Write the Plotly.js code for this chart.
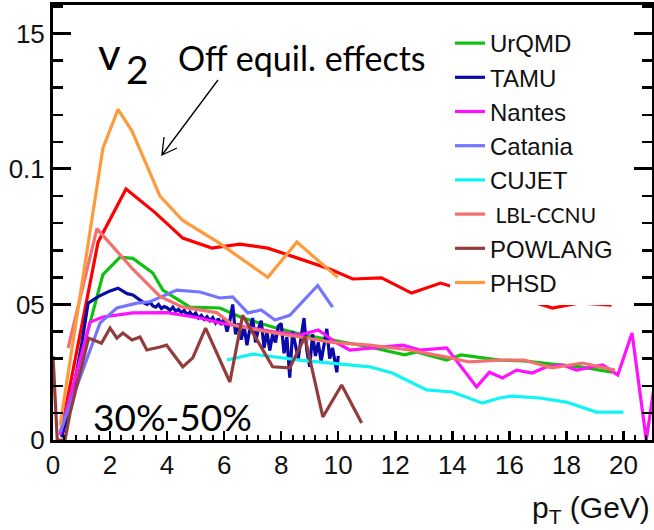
<!DOCTYPE html>
<html>
<head>
<meta charset="utf-8">
<script src="https://cdn.plot.ly/plotly-3.0.1.min.js"></script>
<style>
html,body{margin:0;padding:0;background:#fff;}
#wrap{position:relative;width:654px;height:530px;}
#chart,#axes{position:absolute;left:0;top:0;width:654px;height:530px;}
#axes{pointer-events:none;}
</style>
</head>
<body>
<div id="wrap"><div id="chart"></div><div id="axes"></div></div>
<script>
// ---- data ----
var seriesNames = ["UrQMD","TAMU","Nantes","Catania","CUJET","LBL-CCNU","POWLANG","PHSD"];

var redX = [0.3,1.58,2.56,3.57,4.55,5.57,6.55,7.53,8.55,9.7,10.51,11.52,12.57,13.59,14.5,15.31,16.6,17.51,18.46,19.58];
var redY = [0.004,0.073,0.0926,0.084,0.0745,0.0708,0.0723,0.0708,0.0672,0.0631,0.0594,0.0598,0.0542,0.0579,0.055,0.0509,0.0517,0.0487,0.0506,0.0498];

var urqmdX = [0.25,1.75,2.35,2.8,3.5,3.85,4.8,5.85,6.65,7.7,8.7,9.7,10.4,11.1,12.33,12.75,13.8,14.3,15.65,16.5,17.5,18.5,19.6];
var urqmdY = [0.002,0.061,0.0675,0.067,0.0616,0.0553,0.049,0.0487,0.045,0.0417,0.039,0.037,0.0358,0.0343,0.0314,0.0325,0.0295,0.0314,0.0295,0.0292,0.028,0.027,0.025];

var tamuX = [0.3,0.6,1.0,1.23,1.6,2.0,2.28,2.6,2.8,
  3.0,3.1,3.2,3.3,3.4,3.5,3.6,3.7,3.8,3.9,4.0,4.1,4.2,4.3,4.4,4.5,4.6,4.7,4.8,4.9,
  5.0,5.1,5.2,5.3,5.4,5.5,5.6,5.7,5.8,5.9,6.0,6.1,6.2,6.3,6.4,6.5,6.6,6.7,6.8,6.9,
  7.0,7.1,7.2,7.3,7.4,7.5,7.6,7.7,7.8,7.9,8.0,8.1,8.2,8.3,8.4,8.5,8.6,8.7,8.8,8.9,
  9.0,9.1,9.2,9.3,9.4,9.5,9.6,9.7,9.8,9.9,9.95,10.0];
var tamuY = [0.001,0.012,0.035,0.0505,0.053,0.055,0.056,0.054,0.0535,
  0.052,0.051,0.0505,0.050,0.0508,0.0495,0.049,0.050,0.0485,0.0492,0.0488,0.0478,0.049,0.0475,0.0482,0.047,0.0478,0.0462,0.0472,0.0458,
  0.0468,0.045,0.046,0.0445,0.0455,0.044,0.0452,0.0432,0.0448,0.0425,0.045,0.040,0.044,0.050,0.039,0.043,0.037,0.042,0.035,0.041,
  0.045,0.036,0.041,0.044,0.034,0.040,0.033,0.039,0.036,0.042,0.043,0.032,0.038,0.023,0.040,0.035,0.030,0.038,0.045,0.033,
  0.027,0.039,0.031,0.036,0.029,0.035,0.041,0.030,0.034,0.028,0.025,0.031];

var nantesX = [0.25,1.3,1.75,2.8,4.0,5.15,5.85,7.7,8.65,9.3,9.95,10.4,11.5,12.27,12.86,13.8,14.85,15.3,15.76,16.25,16.8,17.3,17.87,18.35,19.27,19.8,20.3,20.8,21.05];
var nantesY = [0.002,0.0435,0.0454,0.0469,0.047,0.045,0.0432,0.040,0.0387,0.0406,0.0358,0.0332,0.0343,0.035,0.0332,0.034,0.0196,0.025,0.0229,0.0258,0.0247,0.027,0.0277,0.0258,0.0277,0.024,0.0395,0.0,0.018];

var cataniaX = [0.25,1.65,2.24,2.94,3.4,4.34,5.15,5.85,6.3,6.83,7.3,7.78,8.3,9.28,9.8];
var cataniaY = [0.003,0.0432,0.0487,0.0505,0.051,0.0553,0.0546,0.0524,0.0528,0.0469,0.048,0.0443,0.046,0.057,0.049];

var cujetX = [6.1,7.0,8.65,9.8,11.1,11.9,13.1,14.0,15.06,15.65,16.1,17.06,18.0,19.05,20.0];
var cujetY = [0.0295,0.0317,0.0295,0.0284,0.027,0.0247,0.0185,0.0177,0.0136,0.0155,0.0162,0.0155,0.014,0.0103,0.0103];

var lblX = [0.53,1.54,2.8,3.75,4.55,5.74,6.3,7.5,8.65,9.8,11.1,12.5,13.8,14.6,15.65,16.5,17.5,18.56,19.7];
var lblY = [0.034,0.078,0.063,0.053,0.049,0.047,0.0424,0.040,0.038,0.036,0.035,0.0332,0.0306,0.0288,0.0295,0.0295,0.0266,0.0284,0.0258];

var powlangX = [0.0,0.15,0.42,0.6,1.25,1.7,2.0,2.24,2.45,2.77,3.05,3.29,3.75,3.98,4.55,4.9,5.35,6.2,6.65,7.7,8.3,8.83,9.46,10.12,10.82];
var powlangY = [0.031,0.0,0.0,0.01,0.0376,0.0357,0.0413,0.0376,0.0395,0.0369,0.038,0.0332,0.0343,0.035,0.027,0.0303,0.0413,0.0214,0.046,0.027,0.0266,0.038,0.0085,0.0203,0.0063];

var phsdX = [0.25,1.75,2.28,2.77,3.75,4.55,5.78,7.53,8.55,9.98];
var phsdY = [0.0055,0.1077,0.122,0.114,0.090,0.081,0.073,0.060,0.073,0.060];

// y tick labels as they appear (left part cropped in the reference)
var yTickVals = [0, 0.05, 0.1, 0.15];
var yTickText = ["0", "05", "0.1", "15"];
var xRange = [0, 21];
var yRange = [0, 0.1605];

// ---- styling ----
var colors = {red:"#ff0000", UrQMD:"#10c010", TAMU:"#0a0aa8", Nantes:"#ff10ff", Catania:"#7474ff",
  CUJET:"#10f4f4", LBL:"#f47070", POWLANG:"#933c3c", PHSD:"#ff9a3c"};
function tr(x, y, name, color, show) {
  return {x:x, y:y, name:name, type:"scatter", mode:"lines", showlegend:show,
          line:{color:color, width:3.2}, hoverinfo:"skip"};
}
var data = [
  tr(redX, redY, "red", colors.red, false),
  tr(urqmdX, urqmdY, seriesNames[0], colors.UrQMD, true),
  tr(tamuX, tamuY, seriesNames[1], colors.TAMU, true),
  tr(nantesX, nantesY, seriesNames[2], colors.Nantes, true),
  tr(cataniaX, cataniaY, seriesNames[3], colors.Catania, true),
  tr(cujetX, cujetY, seriesNames[4], colors.CUJET, true),
  tr(lblX, lblY, '<span style="font-family:Lato;font-size:21px"> ' + seriesNames[5] + '</span>', colors.LBL, true),
  tr(powlangX, powlangY, seriesNames[6], colors.POWLANG, true),
  tr(phsdX, phsdY, seriesNames[7], colors.PHSD, true)
];

var L = 53, T = 5, W = 599, H = 435;
function px(v){ return (v - L) / W; }
function py(v){ return (T + H - v) / H; }
var margin = {l:L, r:654-L-W, t:T, b:530-T-H};

// layer 1: curves, legend, labels
var layout = {
  width:654, height:530, margin:margin,
  font:{family:"Liberation Sans, Arial, sans-serif", color:"#111"},
  xaxis:{range:xRange, visible:false},
  yaxis:{range:yRange, visible:false},
  legend:{x:px(450), y:py(21), xanchor:"left", yanchor:"top", bgcolor:"#ffffff", borderwidth:0,
          font:{size:24, family:"Liberation Sans, Arial, sans-serif", color:"#111"}, itemwidth:30, tracegroupgap:0},
  annotations:[
    {xref:"paper", yref:"paper", x:px(96), y:py(53), xanchor:"left", yanchor:"middle", showarrow:false,
     text:"v", font:{family:"Lato", size:44, color:"#000"}},
    {xref:"paper", yref:"paper", x:px(124), y:py(69), xanchor:"left", yanchor:"middle", showarrow:false,
     text:"2", font:{family:"Lato", size:39, color:"#000"}},
    {xref:"paper", yref:"paper", x:px(176), y:py(57), xanchor:"left", yanchor:"middle", showarrow:false,
     text:"Off equil. effects", font:{family:"Lato", size:34, color:"#000"}},
    {xref:"paper", yref:"paper", x:px(91), y:py(416), xanchor:"left", yanchor:"middle", showarrow:false,
     text:"30%-50%", font:{family:"Lato", size:37, color:"#000"}},
    {xref:"paper", yref:"paper", x:px(652), y:py(509), xanchor:"right", yanchor:"middle", showarrow:false,
     text:"p<sub>T</sub> (GeV)", font:{family:"Liberation Sans, Arial, sans-serif", size:30, color:"#111"}}
  ],
  shapes:[
    {type:"path", xref:"paper", yref:"paper",
     path:"M"+px(218)+","+py(80)+" L"+px(162)+","+py(155)+" M"+px(177)+","+py(148)+" L"+px(162)+","+py(155)+" L"+px(164)+","+py(137),
     line:{color:"#000", width:1.3}}
  ]
};

// layer 2: frame, ticks and tick labels on the same scales
var tickFont = {size:26, family:"Liberation Sans, Arial, sans-serif", color:"#111"};
var axesLayout = {
  width:654, height:530, margin:margin,
  paper_bgcolor:"rgba(0,0,0,0)", plot_bgcolor:"rgba(0,0,0,0)",
  showlegend:false,
  xaxis:{range:xRange, showline:true, linewidth:3, linecolor:"#000", mirror:true, showgrid:false, zeroline:false,
         tickmode:"linear", tick0:0, dtick:2, ticks:"inside", ticklen:9, tickwidth:2.5, tickcolor:"#000",
         minor:{dtick:0.4, ticks:"inside", ticklen:5, tickwidth:2, tickcolor:"#000"}, tickfont:tickFont},
  yaxis:{range:yRange, showline:true, linewidth:3, linecolor:"#000", mirror:"ticks", showgrid:false, zeroline:false,
         tickmode:"array", tickvals:yTickVals, ticktext:yTickText, ticks:"inside", ticklen:18, tickwidth:3, tickcolor:"#000",
         minor:{tickmode:"linear", tick0:0, dtick:0.01, ticks:"inside", ticklen:10, tickwidth:2.5, tickcolor:"#000"}, tickfont:tickFont}
};

Plotly.newPlot("chart", data, layout, {displayModeBar:false, staticPlot:true}).then(function(){
  return Plotly.newPlot("axes", [{x:[xRange[0]], y:[yRange[0]], type:"scatter", mode:"none", showlegend:false, hoverinfo:"skip"}],
                        axesLayout, {displayModeBar:false, staticPlot:true});
});
</script>
</body>
</html>
